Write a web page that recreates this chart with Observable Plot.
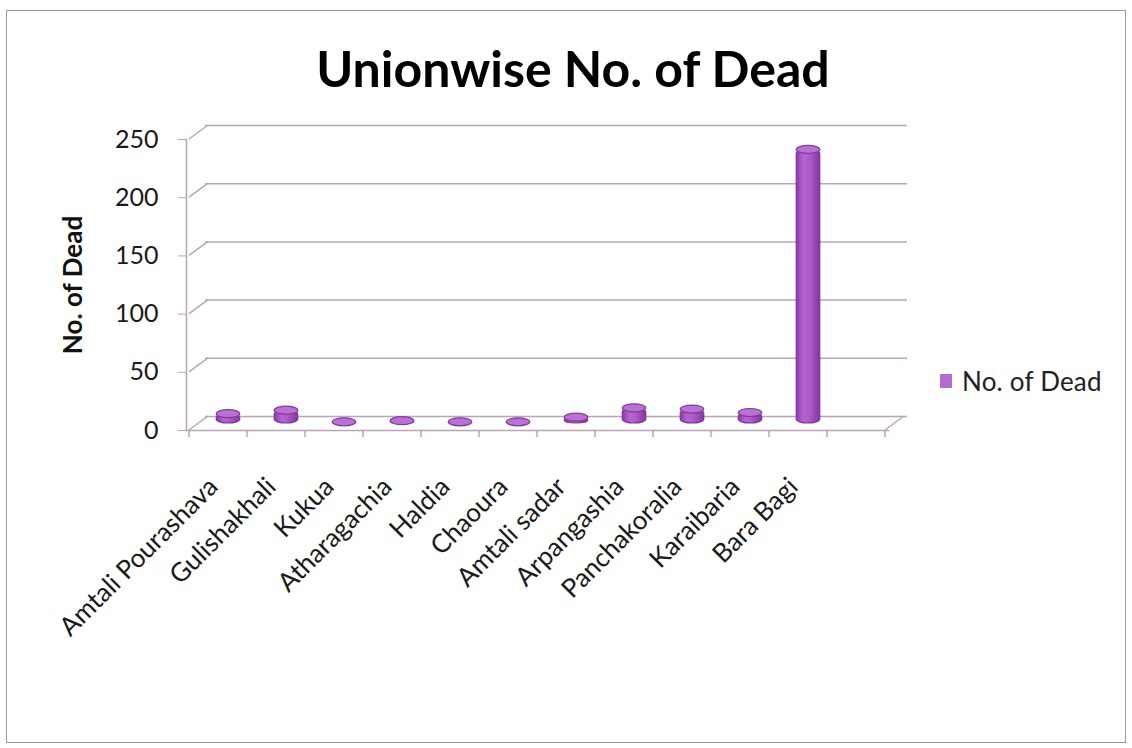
<!DOCTYPE html>
<html>
<head>
<meta charset="utf-8">
<script src="https://cdn.jsdelivr.net/npm/d3@7"></script>
<script src="https://cdn.jsdelivr.net/npm/@observablehq/plot@0.6"></script>
<style>
  body { margin: 0; background: #fff; font-family: Lato, "Open Sans", sans-serif; }
  #page { position: relative; width: 1132px; height: 748px; overflow: hidden; background: #fff; }
  #border { position: absolute; left: 6px; top: 10px; width: 1120px; height: 733px; border: 1.5px solid #9a9a9a; box-sizing: border-box; }
  #title { position: absolute; left: 0; width: 1146px; top: 38px; text-align: center; font: bold 50px Lato, sans-serif; color: #000; }
  #chart { position: absolute; left: 0; top: 0; }
  #legend { position: absolute; left: 940px; top: 365px; font: 26px Lato, sans-serif; color: #222; display: flex; align-items: center; letter-spacing: 0.2px; }
  #legend .sw { width: 12px; height: 14px; background: #b46cd0; margin-right: 10px; }
</style>
</head>
<body>
<div id="page">
  <div id="border"></div>
  <div id="chart"></div>
  <div id="title">Unionwise No. of Dead</div>
  <div id="legend"><span class="sw"></span><span id="legendText"></span></div>
</div>
<script>
// ---- data ----
const categories = ["Amtali Pourashava", "Gulishakhali", "Kukua", "Atharagachia", "Haldia", "Chaoura", "Amtali sadar", "Arpangashia", "Panchakoralia", "Karaibaria", "Bara Bagi"];
const deaths = [8, 11, 1, 2, 1, 1, 5, 13, 12, 9, 235];
const yTicks = [0, 50, 100, 150, 200, 250];
const seriesName = "No. of Dead";

const data = categories.map((c, i) => ({union: c, dead: deaths[i]}));
const xDomain = [...categories, " "]; // extra empty depth slot of the 3-D floor

// ---- styles ----
const grid = "#b9a5b3";
const DX = 19, DY = -14;      // back wall offset
const W = 1132, H = 748;
const mL = 186, mR = 244, mT = 139, mB = 318;
const bw = (W - mL - mR) / xDomain.length;
const barW = 24;
const inset = (bw - barW) / 2;

document.getElementById("legendText").textContent = seriesName;

const chart = Plot.plot({
  width: W, height: H,
  marginLeft: mL, marginRight: mR, marginTop: mT, marginBottom: mB,
  style: {background: "transparent", fontFamily: "Lato, sans-serif", color: "#1a1a1a"},
  x: {type: "band", domain: xDomain, padding: 0},
  y: {domain: [0, 250]},
  marks: [
    Plot.ruleY(yTicks, {dx: DX, dy: DY, stroke: grid, strokeWidth: 1.5}),
    Plot.frame({anchor: "bottom", stroke: grid, strokeWidth: 1.5}),
    Plot.frame({anchor: "left", stroke: grid, strokeWidth: 1.5}),
    Plot.barY(data, {x: "union", y: "dead", fill: "url(#cyl)", stroke: "#7f3596", strokeWidth: 1.2,
      insetLeft: inset, insetRight: inset, rx: 12, ry: 4, dx: 10, dy: -7}),
    Plot.barY(data, {x: "union", y1: "dead", y2: "dead", insetTop: -4, insetBottom: -4,
      fill: "#b873d2", stroke: "#84389d", strokeWidth: 1.2,
      insetLeft: inset, insetRight: inset, rx: 12, ry: 4, dx: 10, dy: -7}),
    Plot.axisY({ticks: yTicks, tickSize: 8, tickPadding: 20, fontSize: 25, label: null, stroke: grid, fill: "#1a1a1a"}),
    Plot.axisX({tickSize: 0, tickPadding: 52, tickRotate: -45, fontSize: 26, label: null, dx: -5, fill: "#1a1a1a"}),
    Plot.text([seriesName], {frameAnchor: "left", textAnchor: "middle", dx: -113, rotate: -90, fontWeight: "bold", fontSize: 26, fill: "#111"})
  ]
});

document.getElementById("chart").appendChild(chart);

// gradient for cylinders
const svg = d3.select(chart);
const defs = svg.insert("defs", ":first-child");
const g = defs.append("linearGradient").attr("id", "cyl").attr("x1", "0").attr("x2", "1").attr("y1", "0").attr("y2", "0");
[["0%", "#8a39a8"], ["30%", "#b565cf"], ["55%", "#ae5cca"], ["100%", "#8536a2"]].forEach(([o, c]) =>
  g.append("stop").attr("offset", o).attr("stop-color", c));

// 3-D decorations from the library's scales
const xs = chart.scale("x"), ys = chart.scale("y");
const deco = svg.append("g").attr("stroke", grid).attr("stroke-width", 1.5).attr("fill", "none");
const x0 = xs.apply(xDomain[0]);
const xEnd = xs.apply(xDomain[xDomain.length - 1]) + xs.bandwidth;
// left wall diagonals
yTicks.forEach(v => {
  const y = ys.apply(v);
  deco.append("line").attr("x1", x0).attr("y1", y).attr("x2", x0 + DX).attr("y2", y + DY);
});
// right floor edge
deco.append("line").attr("x1", xEnd).attr("y1", ys.apply(0)).attr("x2", xEnd + DX).attr("y2", ys.apply(0) + DY);
// x tick marks at band boundaries
xDomain.forEach(d => {
  const x = xs.apply(d);
  deco.append("line").attr("x1", x).attr("x2", x).attr("y1", ys.apply(0)).attr("y2", ys.apply(0) + 7);
});
deco.append("line").attr("x1", xEnd).attr("x2", xEnd).attr("y1", ys.apply(0)).attr("y2", ys.apply(0) + 7);
</script>
</body>
</html>
